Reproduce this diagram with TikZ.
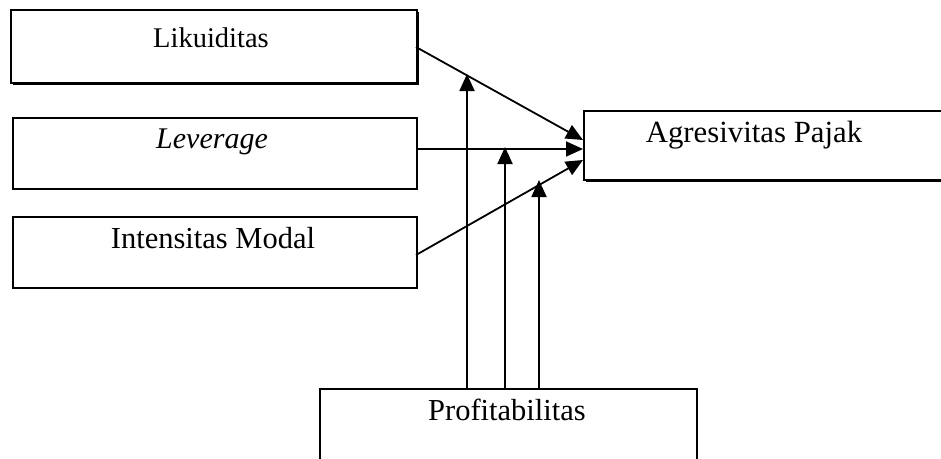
\documentclass[tikz,border=0pt]{standalone}
\usepackage{fontspec}
\setmainfont{Liberation Serif}
\usetikzlibrary{arrows.meta,shadows,calc}
\begin{document}
\begin{tikzpicture}[x=1pt,y=-1pt,
  box/.style={draw=black,line width=1.9pt,fill=white,rectangle,inner sep=0pt,anchor=north west},
  shadowbox/.style={box,drop shadow={shadow xshift=1.8pt,shadow yshift=-1.8pt,opacity=1,fill=black}},
  lbl/.style={anchor=base,inner sep=0pt},
  conn/.style={line width=1.8pt,-{Triangle[length=17pt,width=15pt]}}]
\useasboundingbox (0,0) rectangle (941,458);
\clip (0,0) rectangle (941,458);
% boxes
\node[shadowbox,minimum width=406pt,minimum height=73pt] (lik) at (10,9) {};
\node[box,minimum width=404pt,minimum height=71pt] (lev) at (12,117) {};
\node[box,minimum width=404pt,minimum height=71pt] (int) at (12,216) {};
\node[shadowbox,minimum width=380pt,minimum height=69pt] (agr) at (583,110) {};
\node[box,minimum width=377pt,minimum height=90pt] (pro) at (319,388) {};
% labels
\node[lbl,font=\fontsize{28.5}{30}\selectfont] (likt) at (211,47) {Likuiditas};
\node[lbl,font=\fontsize{30}{32}\selectfont\itshape] (levt) at (212,148) {Leverage};
\node[lbl,font=\fontsize{30.5}{32}\selectfont] (intt) at (213,248) {Intensitas Modal};
\node[lbl,font=\fontsize{30.8}{32}\selectfont] (agrt) at (754,142) {Agresivitas Pajak};
\node[lbl,font=\fontsize{30.5}{32}\selectfont] (prot) at (507,420) {Profitabilitas};
% connector points
\coordinate (likS) at (416,47);
\coordinate (levS) at (416,149);
\coordinate (intS) at (416,255);
\coordinate (agr1) at (583,140);
\coordinate (agr2) at (583,149);
\coordinate (agr3) at (583,160);
\coordinate (p1) at (467,388);
\coordinate (p2) at (505,388);
\coordinate (p3) at (539,388);
\coordinate (m1) at (467,74);
\coordinate (m2) at (505,147);
\coordinate (m3) at (539,180);
% connectors
\draw[conn] (likS) -- (agr1);
\draw[conn] (levS) -- (agr2);
\draw[conn] (intS) -- (agr3);
\draw[conn] (p1) -- (m1);
\draw[conn] (p2) -- (m2);
\draw[conn] (p3) -- (m3);
\end{tikzpicture}
\end{document}
